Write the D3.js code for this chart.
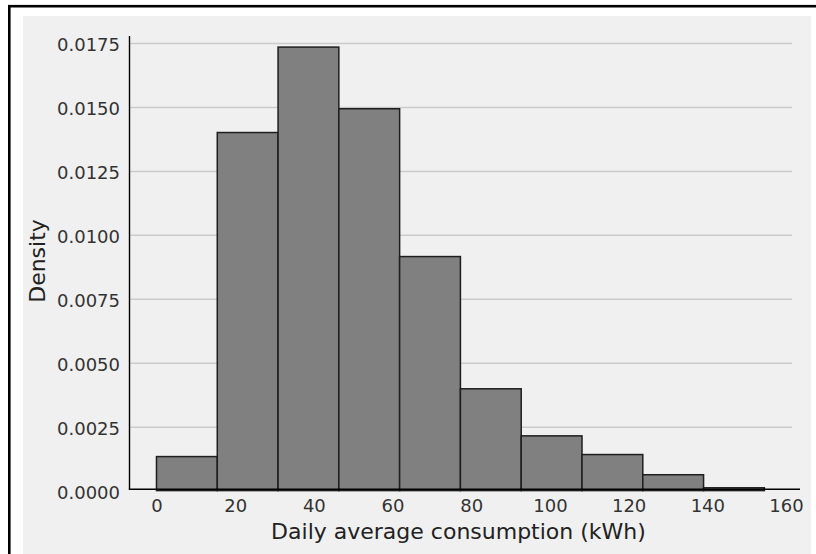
<!DOCTYPE html>
<html><head><meta charset="utf-8">
<script src="https://cdn.jsdelivr.net/npm/d3@7"></script>
<style>body{margin:0;background:#fff;}</style>
</head><body><svg id="c" width="816" height="554"></svg>
<script>
// Data
const binEdges = [0, 15.45, 30.9, 46.35, 61.8, 77.25, 92.7, 108.15, 123.6, 139.05, 154.5];
const densities = [0.00133, 0.01400, 0.01734, 0.01493, 0.00915, 0.00398, 0.00214, 0.00141, 0.00062, 0.00011];
const xTicks = [0, 20, 40, 60, 80, 100, 120, 140, 160];
const yTicks = [0, 0.0025, 0.005, 0.0075, 0.01, 0.0125, 0.015, 0.0175];
const xLabel = "Daily average consumption (kWh)";
const yLabel = "Density";

const bins = densities.map((d, i) => ({x0: binEdges[i], x1: binEdges[i + 1], d}));

const svg = d3.select("#c");
const font = "DejaVu Sans, sans-serif";

// outer frame
svg.append("rect").attr("x", 0).attr("y", 0).attr("width", 816).attr("height", 554).attr("fill", "#fff");
svg.append("rect").attr("x", 9.3).attr("y", 6.2).attr("width", 830).attr("height", 600)
  .attr("fill", "none").attr("stroke", "#000").attr("stroke-width", 2.6);
svg.append("rect").attr("x", 23).attr("y", 16).attr("width", 788).attr("height", 560).attr("fill", "#f0f0f0");

const x = d3.scaleLinear().domain([-6.86, 163.56]).range([129.5, 800]);
const y = d3.scaleLinear().domain([0, 0.0175]).range([490.6, 43]);
const gridRight = 792;

// gridlines
const grid = svg.append("g").attr("transform", `translate(${x.range()[0]},0)`)
  .call(d3.axisLeft(y).tickValues(yTicks.slice(1)).tickSize(-(gridRight - x.range()[0])).tickFormat(""));
grid.select(".domain").remove();
grid.selectAll("line").attr("stroke", "#cbcbcb").attr("stroke-width", 1.5);

// bars
svg.append("g").selectAll("rect").data(bins).join("rect")
  .attr("x", b => x(b.x0)).attr("width", b => x(b.x1) - x(b.x0))
  .attr("y", b => y(b.d)).attr("height", b => y(0) - y(b.d))
  .attr("fill", "#808080").attr("stroke", "#1e1e1e").attr("stroke-width", 1.5);

// spines
svg.append("line").attr("x1", x.range()[0]).attr("x2", x.range()[0]).attr("y1", 36).attr("y2", 489.6)
  .attr("stroke", "#000").attr("stroke-width", 1.4);
svg.append("line").attr("x1", x.range()[0] - 0.7).attr("x2", x.range()[1]).attr("y1", 489.3).attr("y2", 489.3)
  .attr("stroke", "#000").attr("stroke-width", 1.4);

// y tick labels
const ya = svg.append("g").attr("transform", "translate(120,0)")
  .call(d3.axisLeft(y).tickValues(yTicks).tickSize(0).tickPadding(0).tickFormat(d3.format(".4f")));
ya.select(".domain").remove();
ya.selectAll("text").attr("font-family", font).attr("font-size", 18).attr("fill", "#333").attr("dy", "0.44em");

// x tick labels
const xa = svg.append("g").attr("transform", "translate(0,489)")
  .call(d3.axisBottom(x).tickValues(xTicks).tickSize(0).tickPadding(10).tickFormat(d3.format("d")));
xa.select(".domain").remove();
xa.selectAll("text").attr("font-family", font).attr("font-size", 18).attr("fill", "#333");

// axis labels
svg.append("text").attr("x", 458.5).attr("y", 539).attr("text-anchor", "middle")
  .attr("font-family", font).attr("font-size", 22).attr("fill", "#222").text(xLabel);
svg.append("text").attr("transform", "translate(45,261) rotate(-90)").attr("text-anchor", "middle")
  .attr("font-family", font).attr("font-size", 22).attr("fill", "#222").text(yLabel);
</script>
</body></html>
